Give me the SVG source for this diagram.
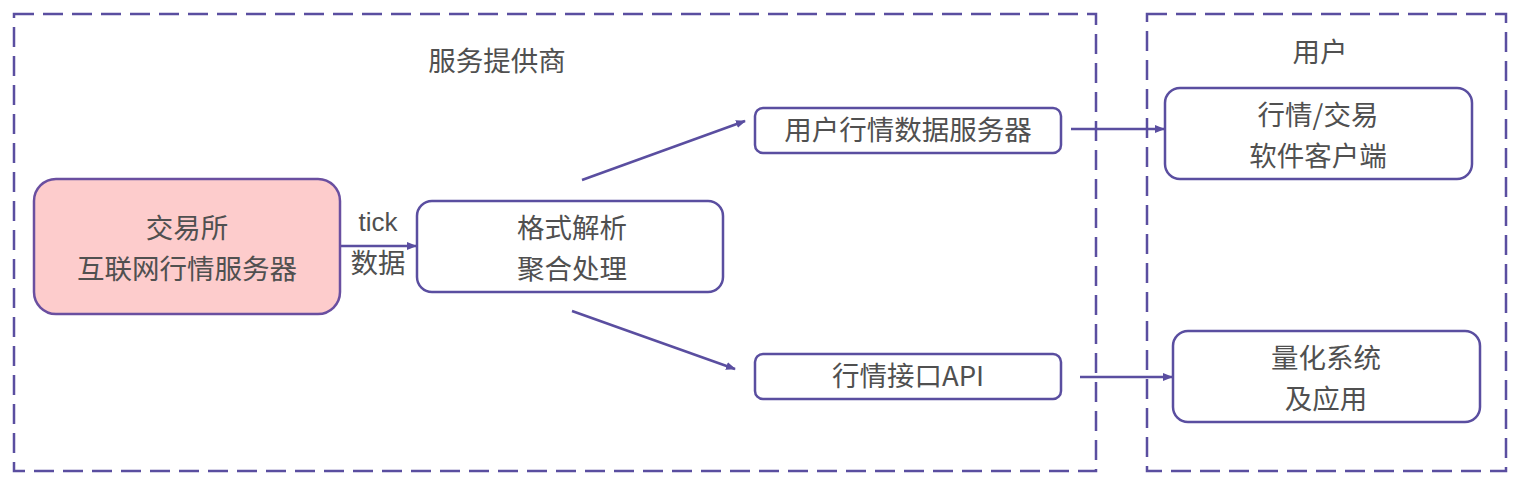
<svg xmlns="http://www.w3.org/2000/svg" width="1519" height="488" viewBox="0 0 1519 488">
<defs>
<marker id="arr" viewBox="0 0 10 10" refX="9" refY="5" markerWidth="10" markerHeight="10" markerUnits="userSpaceOnUse" orient="auto">
<path d="M0,1 L10,5 L0,9 z" fill="#5a4ea0"/>
</marker>
<style>
.zone{fill:none;stroke:#5a4ea0;stroke-width:2.5;stroke-dasharray:20 9}
.node{fill:#fff;stroke:#5a4ea0;stroke-width:2.5}
.src{fill:#fdcccc;stroke:#6a4fa0;stroke-width:2.5}
.t{font-family:"Noto Sans CJK SC","Noto Sans",sans-serif;font-size:27.5px;fill:#505050;text-anchor:middle}
.a{font-family:"Liberation Sans",Arial,sans-serif;font-size:26px;fill:#505050;text-anchor:middle}
.c{stroke:#5a4ea0;stroke-width:2.5;fill:none;marker-end:url(#arr)}
</style>
</defs>
<rect width="1519" height="488" fill="#fff"/>
<g id="provider">
<rect class="zone" x="14" y="14" width="1082" height="457"/>
<text class="t" x="497" y="71">服务提供商</text>
</g>
<g id="user">
<rect class="zone" x="1147" y="14" width="359" height="457"/>
<text class="t" x="1320" y="62">用户</text>
</g>
<g id="connectors">
<line class="c" x1="340" y1="246" x2="416" y2="246"/>
<line class="c" x1="582" y1="180" x2="745" y2="121"/>
<line class="c" x1="572" y1="311" x2="735" y2="369"/>
<line class="c" x1="1071" y1="129" x2="1164" y2="129"/>
<line class="c" x1="1080" y1="377" x2="1172" y2="377"/>
<text class="a" x="378" y="231">tick</text>
<text class="t" x="378" y="273">数据</text>
</g>
<g id="exchange">
<rect class="src" x="34" y="179" width="306" height="135" rx="22"/>
<text class="t" x="187" y="238">交易所</text>
<text class="t" x="187" y="279">互联网行情服务器</text>
</g>
<g id="parse">
<rect class="node" x="417" y="201" width="306" height="91" rx="15"/>
<text class="t" x="572" y="238">格式解析</text>
<text class="t" x="572" y="279">聚合处理</text>
</g>
<g id="userserver">
<rect class="node" x="755" y="108" width="306" height="45" rx="8"/>
<text class="t" x="908" y="140">用户行情数据服务器</text>
</g>
<g id="api">
<rect class="node" x="755" y="354" width="306" height="45" rx="8"/>
<text class="t" x="908" y="386">行情接口API</text>
</g>
<g id="client">
<rect class="node" x="1165" y="88" width="307" height="91" rx="15"/>
<text class="t" x="1318" y="125">行情/交易</text>
<text class="t" x="1318" y="166">软件客户端</text>
</g>
<g id="quant">
<rect class="node" x="1173" y="331" width="307" height="91" rx="15"/>
<text class="t" x="1326" y="368">量化系统</text>
<text class="t" x="1326" y="409">及应用</text>
</g>
</svg>
